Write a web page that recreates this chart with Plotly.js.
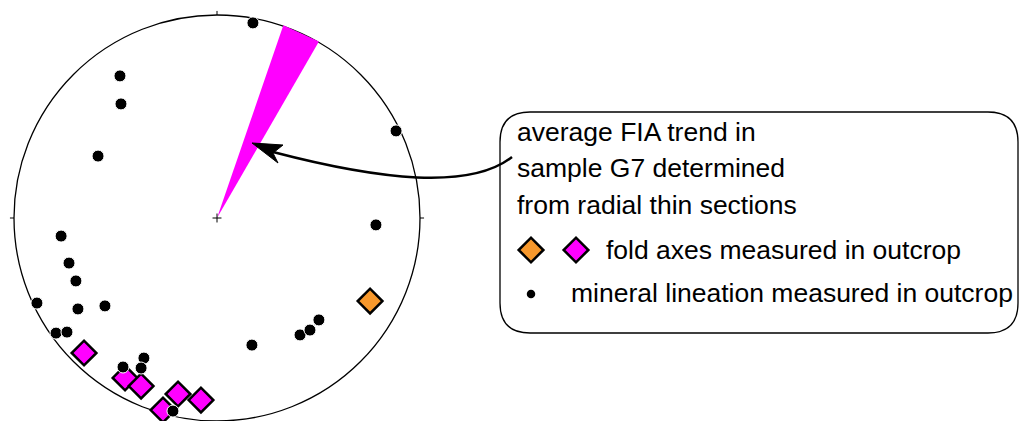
<!DOCTYPE html>
<html>
<head>
<meta charset="utf-8">
<script src="https://cdn.plot.ly/plotly-3.0.1.min.js"></script>
<style>html,body{margin:0;padding:0;background:#fff;}#chart{width:1023px;height:421px;}</style>
</head>
<body>
<div id="chart"></div>
<script>
// ---- data (projected unit-circle coordinates, lower hemisphere) ----
const lineationX = [0.177,-0.478,-0.473,0.882,-0.586,0.783,-0.768,-0.729,-0.695,-0.887,-0.685,-0.552,-0.793,-0.739,0.172,0.409,0.458,0.502,-0.360,-0.374,-0.463,-0.217];
const lineationY = [0.961,0.700,0.562,0.429,0.305,-0.034,-0.089,-0.222,-0.310,-0.419,-0.448,-0.433,-0.567,-0.562,-0.626,-0.576,-0.552,-0.502,-0.690,-0.739,-0.734,-0.951];
const foldMagentaX = [-0.655,-0.453,-0.374,-0.192,-0.079,-0.266];
const foldMagentaY = [-0.665,-0.788,-0.828,-0.867,-0.897,-0.946];
const foldOrangeX = [0.754];
const foldOrangeY = [-0.409];
const fiaTrendRange = [19, 30];   // degrees azimuth
const legendLines = ["average FIA trend in", "sample G7 determined", "from radial thin sections"];
const legendFold = "fold axes measured in outcrop";
const legendLin = "mineral lineation measured in outcrop";

// ---- pixel <-> data helpers (centre at 217,218; radius 203 px) ----
const CX = 217, CY = 218, R = 203, W = 1023, H = 421;
const X = px => (px - CX) / R;
const Y = py => (CY - py) / R;
const P = pts => pts.map(p => X(p[0]).toFixed(4) + ',' + Y(p[1]).toFixed(4));

const MAG = '#FF00FF', ORG = '#F7982C';
const rr = 1.004;
const wedgeX = [0, rr*Math.sin(fiaTrendRange[0]*Math.PI/180), rr*Math.sin(fiaTrendRange[1]*Math.PI/180), 0];
const wedgeY = [0, rr*Math.cos(fiaTrendRange[0]*Math.PI/180), rr*Math.cos(fiaTrendRange[1]*Math.PI/180), 0];

const DS = 19;
const traces = [
  {x: wedgeX, y: wedgeY, mode: 'lines', fill: 'toself', fillcolor: MAG, line: {width: 0, color: MAG}, hoverinfo: 'skip'},
  {x: foldMagentaX, y: foldMagentaY, mode: 'markers', marker: {symbol: 'diamond', size: DS, color: MAG, line: {color: '#000', width: 2.5}}},
  {x: foldOrangeX, y: foldOrangeY, mode: 'markers', marker: {symbol: 'diamond', size: DS, color: ORG, line: {color: '#000', width: 2.5}}},
  {x: lineationX, y: lineationY, mode: 'markers', marker: {symbol: 'circle', size: 12, color: '#000', line: {color: '#fff', width: 1}}},
  // legend symbols
  {x: [X(531)], y: [Y(250)], mode: 'markers', marker: {symbol: 'diamond', size: DS, color: ORG, line: {color: '#000', width: 2.5}}},
  {x: [X(576)], y: [Y(250)], mode: 'markers', marker: {symbol: 'diamond', size: DS, color: MAG, line: {color: '#000', width: 2.5}}},
  {x: [X(531)], y: [Y(294)], mode: 'markers', marker: {symbol: 'circle', size: 8.5, color: '#000'}}
];

const t = 0.02, c = 0.022;
const shapes = [
  {type: 'circle', xref: 'x', yref: 'y', x0: -1, y0: -1, x1: 1, y1: 1, line: {color: '#000', width: 1.3}, layer: 'below'},
  {type: 'line', x0: 0, x1: 0, y0: 1, y1: 1 + t, line: {color: '#000', width: 1}},
  {type: 'line', x0: 0, x1: 0, y0: -1, y1: -1 - t, line: {color: '#000', width: 1}},
  {type: 'line', x0: -1, x1: -1 - t, y0: 0, y1: 0, line: {color: '#000', width: 1}},
  {type: 'line', x0: 1, x1: 1 + t, y0: 0, y1: 0, line: {color: '#000', width: 1}},
  {type: 'line', x0: -c, x1: c, y0: 0, y1: 0, line: {color: '#000', width: 1}},
  {type: 'line', x0: 0, x1: 0, y0: -c, y1: c, line: {color: '#000', width: 1}},
  // legend rounded box
  {type: 'path', xref: 'x', yref: 'y', line: {color: '#000', width: 1.3},
   path: 'M' + P([[530,112]]) + ' L' + P([[988,112]]) + ' Q' + P([[1018,112],[1018,142]]).join(' ') +
         ' L' + P([[1018,303]]) + ' Q' + P([[1018,333],[988,333]]).join(' ') +
         ' L' + P([[530,333]]) + ' Q' + P([[500,333],[500,303]]).join(' ') +
         ' L' + P([[500,142]]) + ' Q' + P([[500,112],[530,112]]).join(' ') + ' Z'},
  // arrow curve
  {type: 'path', xref: 'x', yref: 'y', line: {color: '#000', width: 2.5},
   path: 'M' + P([[512,157]]) + ' C' + P([[470,190],[380,180],[273,152]]).join(' ')},
  // arrow head
  {type: 'path', xref: 'x', yref: 'y', line: {color: '#000', width: 1}, fillcolor: '#000',
   path: 'M' + P([[252,143]]) + ' L' + P([[283,145]]) + ' L' + P([[273,153]]) + ' L' + P([[278,163]]) + ' Z'}
];

const font = {family: 'Liberation Sans, Arial, Helvetica, sans-serif', size: 26.5, color: '#000'};
const annotations = [];
const lineYs = [132, 168, 205];
legendLines.forEach((s, i) => annotations.push({x: X(515), y: Y(lineYs[i]), text: s, showarrow: false, xanchor: 'left', yanchor: 'middle', font: font}));
annotations.push({x: X(604), y: Y(250), text: legendFold, showarrow: false, xanchor: 'left', yanchor: 'middle', font: font});
annotations.push({x: X(569), y: Y(293), text: legendLin, showarrow: false, xanchor: 'left', yanchor: 'middle', font: font});

const layout = {
  width: W, height: H,
  margin: {l: 0, r: 0, t: 0, b: 0, pad: 0},
  paper_bgcolor: '#fff', plot_bgcolor: '#fff',
  showlegend: false,
  xaxis: {range: [X(0), X(W)], visible: false, fixedrange: true},
  yaxis: {range: [Y(H), Y(0)], visible: false, fixedrange: true},
  shapes: shapes,
  annotations: annotations
};
Plotly.newPlot('chart', traces, layout, {staticPlot: true, displayModeBar: false});
</script>
</body>
</html>
